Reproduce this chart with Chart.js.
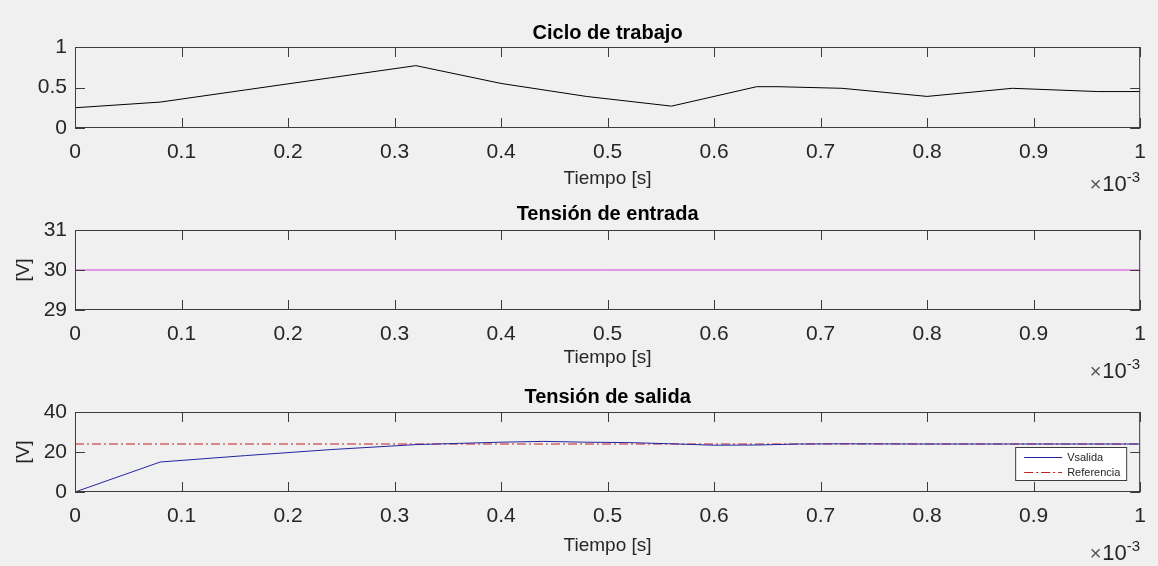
<!DOCTYPE html>
<html>
<head>
<meta charset="utf-8">
<script src="https://cdn.jsdelivr.net/npm/chart.js@4.4.0/dist/chart.umd.min.js"></script>
<style>
  html, body { margin: 0; padding: 0; background: #f0f0f0; }
  body { width: 1158px; height: 566px; position: relative; overflow: hidden; }
  .panel { position: absolute; left: 0; width: 1158px; }
  canvas { display: block; }
</style>
</head>
<body>
<div class="panel" style="top:0"><canvas id="duty" width="1158" height="198"></canvas></div>
<div class="panel" style="top:190px"><canvas id="vin" width="1158" height="195"></canvas></div>
<div class="panel" style="top:375px"><canvas id="vout" width="1158" height="191"></canvas></div>
<script>
// time axis in ms (scaled by 1e-3 on the plot)
const xTickLabels = ['0', '0.1', '0.2', '0.3', '0.4', '0.5', '0.6', '0.7', '0.8', '0.9', '1'];

// duty cycle
const tDuty = [0, 0.08, 0.16, 0.24, 0.32, 0.40, 0.48, 0.56, 0.64, 0.66, 0.72, 0.80, 0.88, 0.96, 1.00];
const duty  = [0.25, 0.32, 0.47, 0.62, 0.77, 0.55, 0.39, 0.27, 0.51, 0.51, 0.49, 0.39, 0.49, 0.45, 0.45];
const dutyTicks = ['0', '0.5', '1'];

// input voltage
const tVin = [0, 1];
const vin  = [30, 30];
const vinTicks = ['29', '30', '31'];

// output voltage and reference
const tVout = [0, 0.08, 0.16, 0.24, 0.32, 0.36, 0.40, 0.44, 0.48, 0.52, 0.56, 0.60, 0.64, 0.68, 0.72, 0.80, 0.88, 0.96, 1.00];
const vout  = [0, 15.0, 18.2, 21.2, 23.7, 24.3, 24.9, 25.3, 24.9, 24.7, 24.1, 23.4, 23.5, 24.0, 24.1, 24.0, 24.0, 24.0, 24.0];
const tRef = [0, 1];
const vref = [24, 24];
const voutTicks = ['0', '20', '40'];

const FONT = "'Liberation Sans', Arial, sans-serif";
const AXIS_COLOR = '#262626';

const toXY = (xs, ys) => xs.map((x, i) => ({ x: x, y: ys[i] }));

// boxed axes with inward ticks, the x10^-3 multiplier and an optional legend
const matlabAxes = {
  id: 'matlabAxes',
  afterDraw(chart, args, opts) {
    const { ctx, chartArea: a, scales: { x, y } } = chart;
    ctx.save();
    ctx.strokeStyle = '#3c3c3c';
    ctx.lineWidth = 1;
    ctx.strokeRect(a.left + 0.5, a.top + 0.5, a.right - a.left - 1, a.bottom - a.top - 1);

    ctx.beginPath();
    x.ticks.forEach(t => {
      const px = Math.round(x.getPixelForValue(t.value)) + 0.5;
      ctx.moveTo(px, a.bottom); ctx.lineTo(px, a.bottom - 10);
      ctx.moveTo(px, a.top); ctx.lineTo(px, a.top + 10);
    });
    y.ticks.forEach(t => {
      const py = Math.round(y.getPixelForValue(t.value)) + 0.5;
      ctx.moveTo(a.left, py); ctx.lineTo(a.left + 10, py);
      ctx.moveTo(a.right, py); ctx.lineTo(a.right - 10, py);
    });
    ctx.stroke();

    // exponent of the time axis
    const base = a.bottom + opts.expOffset;
    ctx.fillStyle = AXIS_COLOR;
    ctx.textBaseline = 'alphabetic';
    ctx.textAlign = 'right';
    ctx.font = '15px ' + FONT;
    ctx.fillText('-3', a.right, base - 9);
    const w3 = ctx.measureText('-3').width;
    ctx.font = '22px ' + FONT;
    ctx.fillText('10', a.right - w3, base);
    const w10 = ctx.measureText('10').width;
    ctx.font = '20px ' + FONT;
    ctx.fillStyle = '#555555';
    ctx.fillText('\u00d7', a.right - w3 - w10 - 1, base);

    if (opts.legend) {
      const bw = 112, bh = 34;
      const bx = a.right - 13 - bw, by = a.bottom - 11 - bh;
      ctx.fillStyle = '#ffffff';
      ctx.fillRect(bx, by, bw, bh);
      ctx.strokeStyle = '#3c3c3c';
      ctx.strokeRect(bx + 0.5, by + 0.5, bw - 1, bh - 1);
      ctx.font = '11px ' + FONT;
      ctx.textAlign = 'left';
      ctx.textBaseline = 'middle';
      chart.data.datasets.forEach((ds, i) => {
        const ry = by + 10.5 + i * 15;
        ctx.strokeStyle = ds.borderColor;
        ctx.setLineDash(ds.borderDash || []);
        ctx.beginPath();
        ctx.moveTo(bx + 9, ry);
        ctx.lineTo(bx + 47, ry);
        ctx.stroke();
        ctx.setLineDash([]);
        ctx.fillStyle = AXIS_COLOR;
        ctx.fillText(ds.label, bx + 52, ry);
      });
    }
    ctx.restore();
  }
};

function makePanel(id, cfg) {
  return new Chart(document.getElementById(id), {
    type: 'line',
    data: { datasets: cfg.datasets },
    plugins: [matlabAxes],
    options: {
      responsive: false,
      animation: false,
      layout: { padding: { left: 0, right: 13, top: 0, bottom: 0 } },
      elements: { point: { radius: 0 }, line: { borderWidth: 1, tension: 0 } },
      plugins: {
        legend: { display: false },
        tooltip: { enabled: false },
        title: {
          display: true,
          text: cfg.title,
          fullSize: false,
          color: '#000000',
          font: { family: FONT, size: 20, weight: 'bold' },
          padding: { top: cfg.titlePad[0], bottom: cfg.titlePad[1] }
        },
        matlabAxes: { expOffset: cfg.expOffset, legend: !!cfg.legend }
      },
      scales: {
        x: {
          type: 'linear',
          min: 0,
          max: 1,
          afterFit: s => { s.height = cfg.xHeight; },
          afterBuildTicks: s => { s.ticks = xTickLabels.map((l, i) => ({ value: i / 10 })); },
          grid: { display: false, drawTicks: false },
          border: { display: false },
          ticks: {
            autoSkip: false,
            maxRotation: 0,
            padding: 12,
            color: AXIS_COLOR,
            font: { family: FONT, size: 21 },
            callback: (v, i) => xTickLabels[i]
          },
          title: {
            display: true,
            text: 'Tiempo [s]',
            color: AXIS_COLOR,
            font: { family: FONT, size: 19 },
            padding: { top: 0, bottom: cfg.xTitlePad }
          }
        },
        y: {
          type: 'linear',
          min: cfg.yMin,
          max: cfg.yMax,
          afterFit: s => { s.width = 75; },
          afterBuildTicks: s => { s.ticks = cfg.yTicks.map(l => ({ value: parseFloat(l) })); },
          grid: { display: false, drawTicks: false },
          border: { display: false },
          ticks: {
            padding: 8,
            color: AXIS_COLOR,
            font: { family: FONT, size: 21 },
            callback: (v, i) => cfg.yTicks[i]
          },
          title: {
            display: !!cfg.yTitle,
            text: cfg.yTitle || '',
            color: AXIS_COLOR,
            font: { family: FONT, size: 19 },
            padding: { top: 12, bottom: 0 }
          }
        }
      }
    }
  });
}

makePanel('duty', {
  title: 'Ciclo de trabajo',
  titlePad: [21, 2],
  xHeight: 70,
  xTitlePad: 8,
  expOffset: 63,
  yMin: 0, yMax: 1,
  yTicks: dutyTicks,
  datasets: [{ data: toXY(tDuty, duty), borderColor: '#000000' }]
});

makePanel('vin', {
  title: 'Tensión de entrada',
  titlePad: [12, 4],
  xHeight: 75,
  xTitlePad: 16,
  expOffset: 68,
  yMin: 29, yMax: 31,
  yTicks: vinTicks,
  yTitle: '[V]',
  datasets: [{ data: toXY(tVin, vin), borderColor: '#d63cd6' }]
});

makePanel('vout', {
  title: 'Tensión de salida',
  titlePad: [10, 3],
  xHeight: 74,
  xTitlePad: 9,
  expOffset: 68,
  yMin: 0, yMax: 40,
  yTicks: voutTicks,
  yTitle: '[V]',
  legend: true,
  datasets: [
    { label: 'Vsalida', data: toXY(tVout, vout), borderColor: '#2424a0' },
    { label: 'Referencia', data: toXY(tRef, vref), borderColor: '#c02020', borderDash: [9, 3, 2, 3] }
  ]
});
</script>
</body>
</html>
